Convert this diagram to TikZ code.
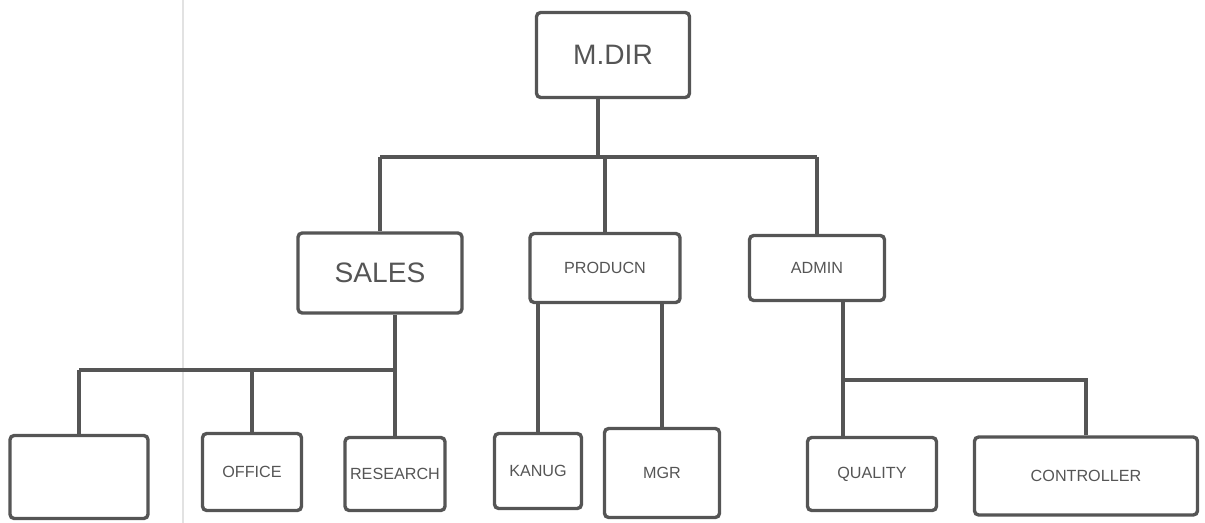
\documentclass[tikz,border=0pt]{standalone}
\usepackage{fontspec}
\setmainfont{Liberation Sans}
\usepackage{xcolor}
\usepackage{tikz}
\usetikzlibrary{positioning,calc}
\definecolor{pencil}{HTML}{555555}
\definecolor{crease}{HTML}{E2E2E2}
\tikzset{
  orgbox/.style={rectangle, rounded corners=3pt, draw=pencil, line width=2.4pt,
    text=pencil, align=center, inner sep=2pt},
  bigtxt/.style={font=\fontsize{20}{22}\selectfont},
  smalltxt/.style={font=\fontsize{11.5}{14}\selectfont},
  orgline/.style={pencil, line width=2.4pt}
}
\begin{document}
\begin{tikzpicture}[x=0.025cm, y=-0.025cm]
        \useasboundingbox (0,0) rectangle (1205,523);
        \draw[crease, line width=1pt] (183,0) -- (183,523);
        % top level
        \node[orgbox, bigtxt, minimum width=3.825cm, minimum height=2.125cm] (mdir) at (613,55) {M.DIR};
        % departments
        \node[orgbox, bigtxt, minimum width=4.1cm, minimum height=2cm] (sales) at (380,273) {SALES};
        \node[orgbox, smalltxt, minimum width=3.75cm, minimum height=1.725cm] (prod) at (605,268) {PRODUCN};
        \node[orgbox, smalltxt, minimum width=3.375cm, minimum height=1.625cm] (admin) at (817,268) {ADMIN};
        % sections
        \node[orgbox, minimum width=3.45cm, minimum height=2.075cm] (blank) at (79,477) {};
        \node[orgbox, smalltxt, minimum width=2.475cm, minimum height=1.925cm] (office) at (252,472) {OFFICE};
        \node[orgbox, smalltxt, minimum width=2.5cm, minimum height=1.825cm] (research) at (395,474) {RESEARCH};
        \node[orgbox, smalltxt, minimum width=2.175cm, minimum height=1.875cm] (kanug) at (538,471) {KANUG};
        \node[orgbox, smalltxt, minimum width=2.875cm, minimum height=2.225cm] (mgr) at (662,473) {MGR};
        \node[orgbox, smalltxt, minimum width=3.225cm, minimum height=1.825cm] (quality) at (872,474) {QUALITY};
        \node[orgbox, smalltxt, minimum width=5.575cm, minimum height=1.95cm] (controller) at (1086,476) {CONTROLLER};
        % buses
        \coordinate (tbus) at (598,157);
        \coordinate (sbus) at (0,370);
        \coordinate (abus) at (843,380);
        \draw[orgline] (mdir.south -| tbus) -- (tbus);
        \draw[orgline] (sales |- tbus) -- (admin |- tbus);
        \draw[orgline] (sales |- tbus) -- (sales);
        \draw[orgline] (prod |- tbus) -- (prod);
        \draw[orgline] (admin |- tbus) -- (admin);
        \draw[orgline] (sales.south -| research) -- (research);
        \draw[orgline] (blank |- sbus) -- (research |- sbus);
        \draw[orgline] (blank |- sbus) -- (blank);
        \draw[orgline] (office |- sbus) -- (office);
        \draw[orgline] (prod.south -| kanug) -- (kanug);
        \draw[orgline] (prod.south -| mgr) -- (mgr);
        \draw[orgline] (admin.south -| abus) -- (quality.north -| abus);
        \draw[orgline] (abus) -- (controller |- abus) -- (controller);
      \end{tikzpicture}
\end{document}
